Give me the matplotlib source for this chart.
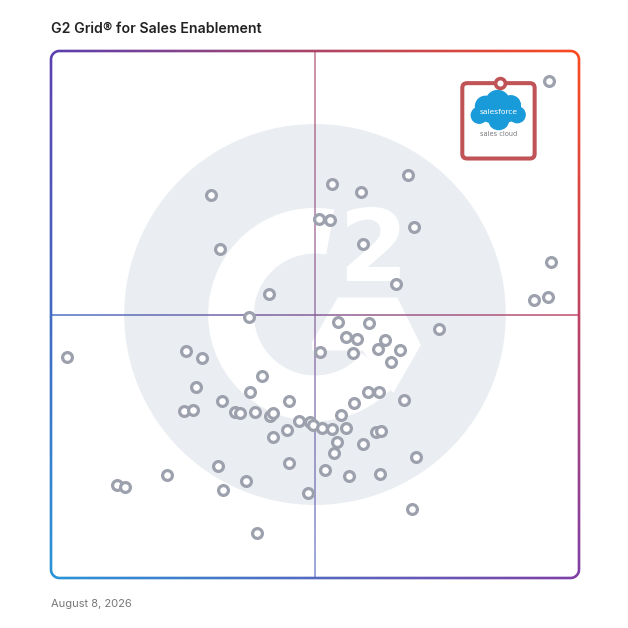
import numpy as np
import matplotlib
matplotlib.use("Agg")
import matplotlib.pyplot as plt
from matplotlib.collections import LineCollection
from matplotlib.patches import Circle, Wedge, Polygon, FancyBboxPatch, Ellipse, PathPatch
from matplotlib.path import Path

# scores (0-100 on both axes)
satisfaction = [94.3, 67.6, 53.2, 58.7, 30.3, 50.8, 52.8, 68.8, 59.1, 32.0,
                94.7, 65.3, 41.3, 91.5, 94.1, 37.5, 54.4, 60.2, 73.5, 55.9,
                58.0, 63.3, 61.9, 66.1, 50.9, 57.2, 64.4, 3.0, 25.6, 28.6,
                40.0, 27.5, 37.7, 60.0, 62.1, 66.9, 32.4, 45.1, 57.4, 25.2,
                26.9, 34.8, 35.8, 38.6, 41.5, 42.0, 54.9, 47.0, 49.1, 49.6,
                51.3, 53.2, 55.9, 44.7, 42.0, 61.6, 62.5, 54.2, 59.1, 53.6,
                69.1, 45.1, 31.6, 51.9, 22.0, 12.5, 14.0, 36.9, 56.4, 62.3,
                32.6, 48.7, 39.0, 68.4]
market_presence = [94.3, 76.5, 74.8, 73.2, 72.7, 68.1, 67.9, 66.6, 63.4, 62.4,
                   60.0, 55.8, 53.9, 52.8, 53.3, 49.5, 48.6, 48.4, 47.2, 45.7,
                   45.4, 45.2, 43.5, 43.3, 42.9, 42.7, 41.0, 41.9, 43.1, 41.7,
                   38.3, 36.2, 35.3, 35.3, 35.3, 33.8, 33.6, 33.6, 33.2, 31.7,
                   31.9, 31.5, 31.3, 31.5, 30.7, 31.3, 30.9, 29.8, 29.6, 29.0,
                   28.5, 28.3, 28.5, 28.1, 26.8, 27.7, 27.9, 25.8, 25.4, 23.7,
                   23.0, 21.8, 21.3, 20.5, 19.5, 17.6, 17.3, 18.4, 19.4, 19.7,
                   16.7, 16.1, 8.5, 13.1]

featured_name = "salesforce"
featured_sub = "sales cloud"
featured_x = 85.0
featured_y = 93.9

title = "G2 Grid® for Sales Enablement"
date_label = "August 8, 2026"

# corner colours of the gradient frame
c_tl = np.array([0x5b, 0x3f, 0xb0]) / 255
c_tr = np.array([0xff, 0x4a, 0x1c]) / 255
c_bl = np.array([0x2a, 0x95, 0xd8]) / 255
c_br = np.array([0x7f, 0x3f, 0xa8]) / 255


def grad(u, v):
    # u: 0 left -> 1 right, v: 0 bottom -> 1 top
    top = c_tl * (1 - u) + c_tr * u
    bot = c_bl * (1 - u) + c_br * u
    return bot * (1 - v) + top * v


def grad_segments(xs, ys, alpha=1.0):
    pts = np.column_stack([xs, ys])
    segs = np.stack([pts[:-1], pts[1:]], axis=1)
    mid = (pts[:-1] + pts[1:]) / 2
    cols = [tuple(grad(np.clip(m[0] / 100, 0, 1), np.clip(m[1] / 100, 0, 1))) + (alpha,) for m in mid]
    return segs, cols


def rounded_rect(x0, y0, x1, y1, r, n=12):
    t = np.linspace(0, np.pi / 2, n)
    pts = []
    for cx, cy, a0 in [(x1 - r, y1 - r, 0), (x0 + r, y1 - r, np.pi / 2),
                       (x0 + r, y0 + r, np.pi), (x1 - r, y0 + r, 1.5 * np.pi)]:
        pts.extend(zip(cx + r * np.cos(a0 + t), cy + r * np.sin(a0 + t)))
    return np.array(pts)


fig = plt.figure(figsize=(6.28, 6.28), dpi=100)
# axes fills the figure; the 0-100 grid sits at pixels 51..579 x 51..578
ax = fig.add_axes([0, 0, 1, 1])
ax.axis("off")
xlim = (-51 / 5.28, (628 - 51) / 5.28)
ylim = ((578 - 628) / 5.27, 578 / 5.27)

# G2 watermark
ax.add_patch(Circle((50, 50), 36, color="#eaedf1", zorder=0))
ax.add_patch(Wedge((50, 50), 20.1, 80, 320, width=8.4, color="white", zorder=0.5))
ax.add_patch(Polygon([(54.4, 53.1), (65.5, 53.1), (69.9, 44.2), (64.8, 35.3),
                      (59.1, 43.3), (49.6, 43.3), (49.6, 44.8)],
                     closed=True, color="white", zorder=0.5))
ax.text(61.0, 61.6, "2", color="white", fontsize=72, fontweight="bold",
        ha="center", va="center", zorder=0.6, family="DejaVu Sans")

# rounded frame: gradient image clipped to a ring-shaped path
hw = 0.25
outer = rounded_rect(-hw, -hw, 100 + hw, 100 + hw, 1.6 + hw)
inner = rounded_rect(hw, hw, 100 - hw, 100 - hw, 1.6 - hw)[::-1]
verts = np.concatenate([outer, outer[:1], inner, inner[:1]])
codes = ([Path.MOVETO] + [Path.LINETO] * (len(outer) - 1) + [Path.CLOSEPOLY]
         + [Path.MOVETO] + [Path.LINETO] * (len(inner) - 1) + [Path.CLOSEPOLY])
frame_path = PathPatch(Path(verts, codes), transform=ax.transData)
gu, gv = np.meshgrid(np.linspace(0, 1, 200), np.linspace(1, 0, 200))
img = grad(gu[..., None], gv[..., None])
im = ax.imshow(img, extent=(-1, 101, -1, 101), zorder=3, interpolation="bilinear",
               aspect="auto")
im.set_clip_path(frame_path)
ax.set_xlim(*xlim)
ax.set_ylim(*ylim)

# quadrant lines
lx = np.linspace(0, 100, 200)
segs, cols = grad_segments(lx, np.full_like(lx, 49.9), alpha=0.95)
ax.add_collection(LineCollection(segs, colors=cols, linewidths=1.1, zorder=1))
segs, cols = grad_segments(np.full_like(lx, 50.0), lx, alpha=0.75)
ax.add_collection(LineCollection(segs, colors=cols, linewidths=1.1, zorder=1))

# vendors
ax.scatter(satisfaction, market_presence, s=50, facecolors="white",
           edgecolors="#9da1ad", linewidths=2.3, zorder=4)

# featured vendor card
ax.add_patch(FancyBboxPatch((77.9, 79.6), 13.7, 14.3,
                            boxstyle="round,pad=0,rounding_size=0.9",
                            facecolor="white", edgecolor="#bf5356",
                            linewidth=2.9, zorder=5))
cloud = "#1a9bd9"
for (cx, cy, w, h) in [(84.7, 88.2, 7.6, 3.8), (82.3, 89.5, 3.8, 3.8),
                       (84.6, 90.3, 4.4, 4.4), (87.1, 89.7, 3.6, 3.6),
                       (81.1, 87.8, 3.0, 3.0), (88.3, 87.9, 3.0, 3.0),
                       (84.8, 86.7, 3.6, 3.2)]:
    ax.add_patch(Ellipse((cx, cy), w, h, color=cloud, zorder=6))
ax.text(84.7, 88.4, featured_name, color="white", fontsize=5.4,
        ha="center", va="center", zorder=7, family="DejaVu Sans")
ax.text(84.7, 84.2, featured_sub, color="#7a7a80", fontsize=4.8,
        ha="center", va="center", zorder=7, family="DejaVu Sans")
ax.scatter([featured_x], [featured_y], s=50, facecolors="white",
           edgecolors="#bf5356", linewidths=2.6, zorder=8)

fig.text(51 / 628, 1 - 29 / 628, title, fontsize=10.2, fontweight="semibold",
         color="#222222", family="Inter", ha="left", va="center")
fig.text(51 / 628, 1 - 604 / 628, date_label, fontsize=8,
         color="#777777", family="Inter", ha="left", va="center")

fig.savefig("out.png", dpi=100)
